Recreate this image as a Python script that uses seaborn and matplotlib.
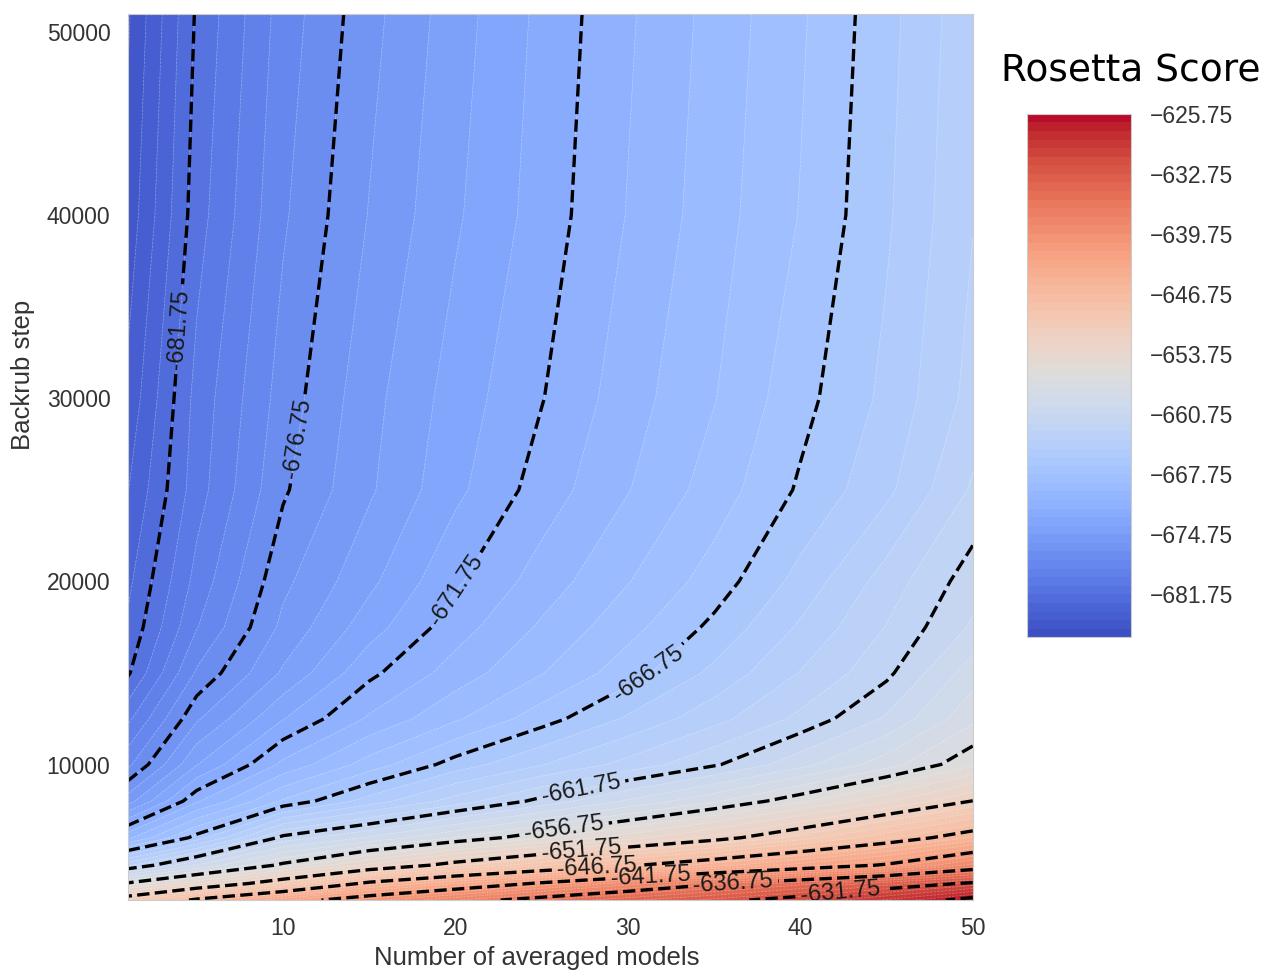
import numpy as np
import matplotlib.pyplot as plt
import seaborn as sns

# number of averaged models (columns) and backrub steps (rows)
n_models = [1, 5, 10, 15, 20, 25, 30, 35, 40, 45, 50]
backrub_steps = [2600, 3500, 4500, 6000, 8000, 10000, 12500, 15000,
                 17500, 20000, 25000, 30000, 40000, 51000]

# mean Rosetta score, one list per backrub step
score_2600 = [-650.3, -646.3, -643.0, -640.2, -637.8, -635.8, -634.0, -632.4, -630.8, -628.6, -625.9]
score_3500 = [-656.5, -653.9, -650.3, -646.2, -643.8, -641.4, -639.2, -637.0, -635.1, -633.2, -631.4]
score_4500 = [-663.0, -659.7, -656.4, -653.5, -651.0, -649.0, -647.0, -645.2, -643.3, -641.5, -638.4]
score_6000 = [-670.0, -666.3, -661.4, -659.6, -657.7, -655.9, -654.2, -652.4, -650.3, -648.0, -645.6]
score_8000 = [-675.2, -670.9, -667.6, -665.3, -663.3, -661.4, -659.6, -657.9, -656.0, -653.9, -651.7]
score_10000 = [-678.0, -673.8, -670.5, -668.3, -666.3, -664.8, -663.4, -661.9, -660.1, -658.2, -655.9]
score_12500 = [-680.0, -675.9, -672.8, -670.6, -668.9, -667.2, -665.6, -664.1, -662.5, -660.6, -658.0]
score_15000 = [-681.9, -677.6, -674.6, -672.0, -670.3, -668.8, -667.2, -665.5, -663.7, -662.0, -659.2]
score_17500 = [-682.6, -678.8, -675.5, -673.2, -671.2, -669.6, -668.1, -666.5, -664.6, -662.7, -660.6]
score_20000 = [-683.0, -679.4, -676.0, -674.0, -671.9, -670.3, -668.8, -667.3, -665.4, -663.3, -661.2]
score_25000 = [-683.8, -680.2, -676.9, -674.9, -673.0, -671.3, -669.8, -668.3, -666.6, -665.0, -662.6]
score_30000 = [-684.5, -680.4, -677.3, -675.1, -673.3, -671.8, -670.2, -668.8, -667.1, -665.5, -663.4]
score_40000 = [-685.4, -681.2, -677.9, -675.7, -673.9, -672.3, -670.7, -669.2, -667.7, -665.9, -663.8]
score_51000 = [-685.9, -681.6, -678.3, -676.1, -674.2, -672.5, -670.9, -669.4, -667.9, -666.1, -664.0]

scores = np.array([score_2600, score_3500, score_4500, score_6000, score_8000,
                   score_10000, score_12500, score_15000, score_17500, score_20000,
                   score_25000, score_30000, score_40000, score_51000])

fill_levels = np.arange(-686.75, -625.7, 1.0)
label_levels = np.arange(-681.75, -630.0, 5.0)
extra_levels = [-626.75]
cbar_ticks = np.arange(-681.75, -625.7, 7.0)

# where the inline labels sit (x, y)
label_spots = [(4.0, 33770), (11.0, 27760), (20.0, 19560), (31.2, 14920),
               (27.3, 8525), (26.3, 6450), (27.3, 5080), (28.2, 4430),
               (31.3, 3880), (36.1, 3550), (42.3, 3170)]

sns.set_style("white")
plt.rcParams["font.family"] = ["Liberation Sans", "DejaVu Sans"]

fig = plt.figure(figsize=(12.65, 9.73), dpi=100)
ax = fig.add_axes([0.101, 0.075, 0.668, 0.911])
cax = fig.add_axes([0.812, 0.345, 0.082, 0.538])

X, Y = np.meshgrid(n_models, backrub_steps)
cmap = sns.color_palette("coolwarm", as_cmap=True)

cf = ax.contourf(X, Y, scores, levels=fill_levels, cmap=cmap)
ax.contour(X, Y, scores, levels=fill_levels, colors="white",
           linewidths=0.5, alpha=0.35)
cs = ax.contour(X, Y, scores, levels=label_levels, colors="black",
                linewidths=2.4, linestyles="--")
ax.contour(X, Y, scores, levels=extra_levels, colors="black",
           linewidths=2.4, linestyles="--")
ax.clabel(cs, fmt="%.2f", fontsize=17, colors="#1a1a1a", manual=label_spots)

for side in ax.spines.values():
    side.set_edgecolor("0.8")

ax.set_xticks([10, 20, 30, 40, 50])
ax.set_yticks([10000, 20000, 30000, 40000, 50000])
ax.tick_params(labelsize=16.5, pad=9, labelcolor="#333333")
ax.set_xlabel("Number of averaged models", fontsize=18.5, color="#333333")
ax.set_ylabel("Backrub step", fontsize=18.5, color="#333333")
ax.xaxis.set_label_coords(0.484, -0.052)
ax.yaxis.set_label_coords(-0.11, 0.593)

cb = fig.colorbar(cf, cax=cax, ticks=cbar_ticks)
cb.outline.set_edgecolor("0.8")
cb.ax.tick_params(labelsize=16.5, length=0, pad=14, labelcolor="#333333")
fig.text(1131 / 1265, 1 - 72 / 973, "Rosetta Score", fontsize=27,
         family="DejaVu Sans", ha="center", va="center", color="black")

fig.savefig("out.png", dpi=100)
